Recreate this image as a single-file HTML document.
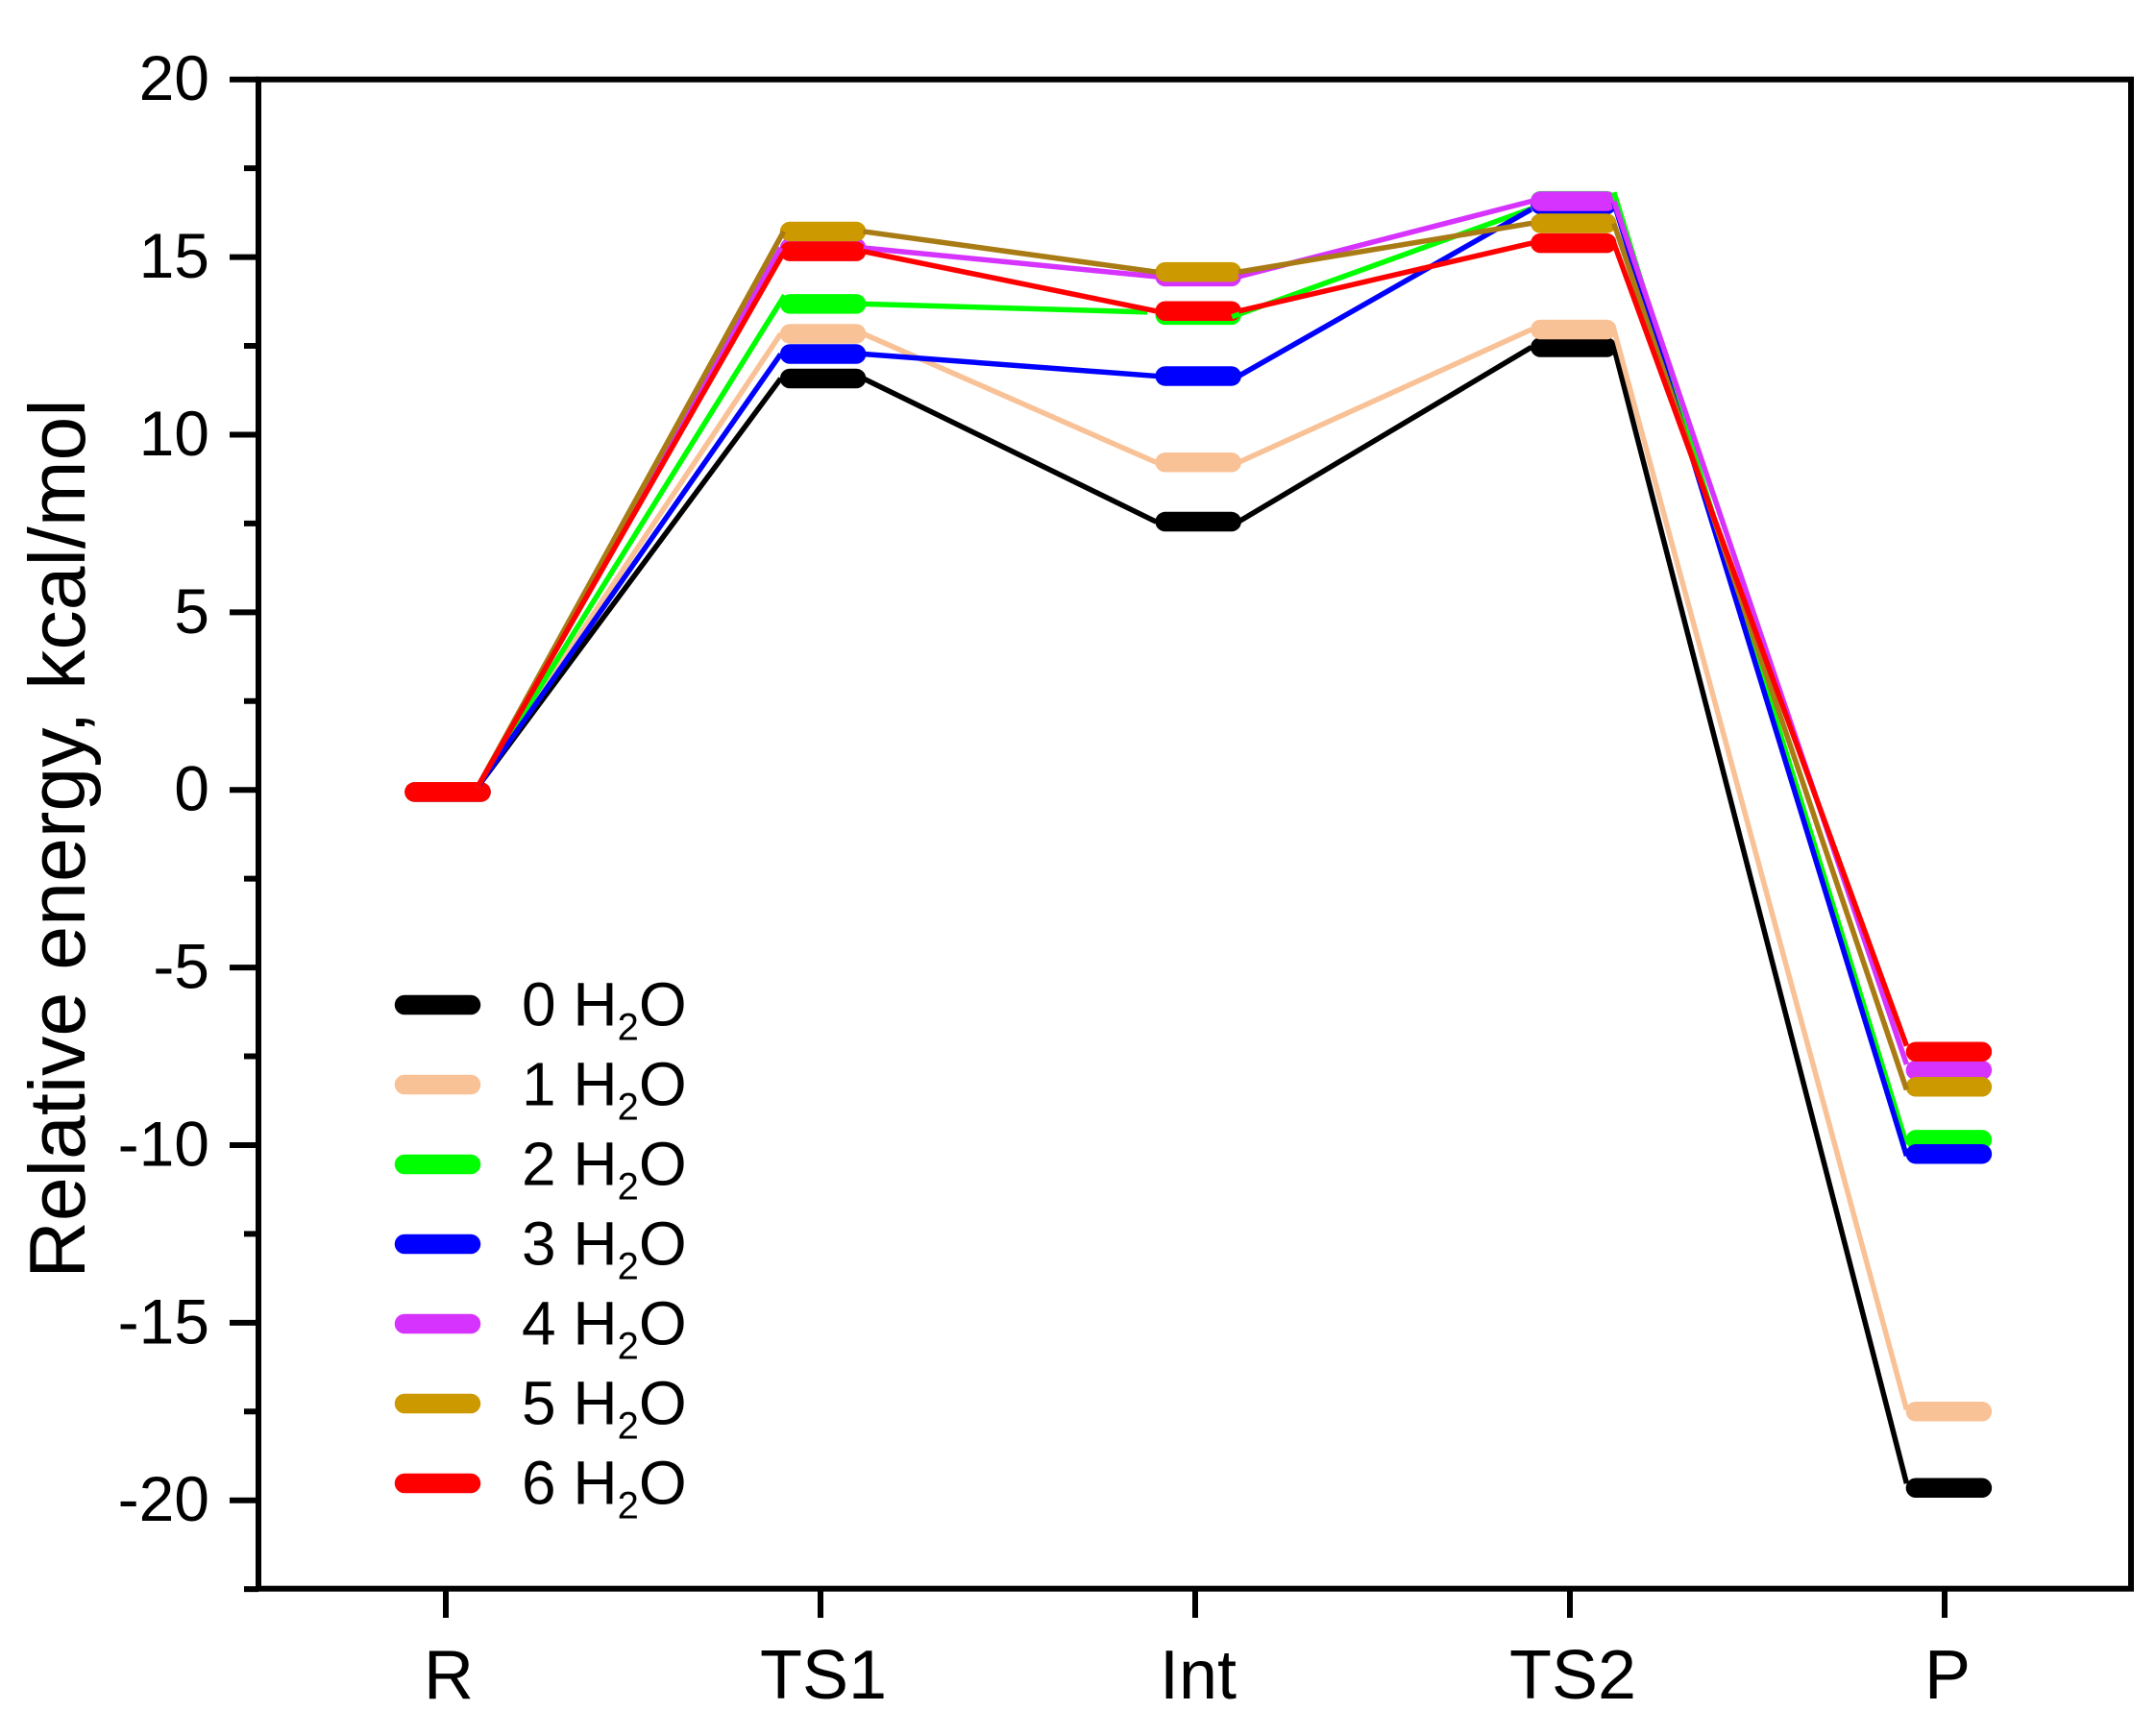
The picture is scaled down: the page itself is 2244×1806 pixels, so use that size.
<!DOCTYPE html>
<html lang="en">
<head>
<meta charset="utf-8">
<title>Relative energy profile</title>
<style>
html,body{margin:0;padding:0;background:#fff;}
svg{display:block;}
text{font-family:"Liberation Sans",Arial,sans-serif;fill:#000;}
</style>
</head>
<body>
<svg id="chart" xmlns="http://www.w3.org/2000/svg" width="2244" height="1806" viewBox="0 0 2244 1806"></svg>
<script>
const categories = ['R', 'TS1', 'Int', 'TS2', 'P'];
const seriesNames = ['0', '1', '2', '3', '4', '5', '6'];
const water0 = [-0.06, 11.58, 7.55, 12.46, -19.65];
const water1 = [-0.06, 12.84, 9.22, 12.96, -17.5];
const water2 = [-0.06, 13.68, 13.37, 16.58, -9.85];
const water3 = [-0.06, 12.27, 11.65, 16.48, -10.25];
const water4 = [-0.06, 15.26, 14.45, 16.57, -7.89];
const water5 = [-0.06, 15.72, 14.58, 15.95, -8.36];
const water6 = [-0.06, 15.16, 13.48, 15.39, -7.37];
const barColors = ['#000000', '#F9C196', '#00FF00', '#0000FF', '#D633FF', '#CC9900', '#FF0000'];
const lineColors = ['#000000', '#F9C196', '#00FF00', '#0000FF', '#D633FF', '#A97B14', '#FF0000'];
const majorTicks = [20, 15, 10, 5, 0, -5, -10, -15, -20];
const minorTicks = [17.5, 12.5, 7.5, 2.5, -2.5, -7.5, -12.5, -17.5, -22.5];

const allSeries = [water0, water1, water2, water3, water4, water5, water6];
const svg = document.getElementById('chart');
const NS = 'http://www.w3.org/2000/svg';
function yScale(v) { return 822.2 - 36.975 * v; }
function xScale(i) { return 464 + 390 * i; }
function barX(i) { return 466 + 390.6 * i; }
function make(tag, attrs, parent) {
  const node = document.createElementNS(NS, tag);
  for (const k in attrs) node.setAttribute(k, attrs[k]);
  (parent || svg).appendChild(node);
  return node;
}
/* hand-drawn connector misalignments: series-segment -> [dx start, dy start, dx end, dy end] */
function connectorNudge(s, i) {
  const key = s + '-' + i;
  if (i === 0) {
    if (key === '2-0') return [-11, -5, 4, -9];
    if (key === '5-0') return [-11, -5, 3, 0];
    if (key === '6-0') return [-11, -5, 2, 3];
    return [-11, -5, 0, 0];
  }
  if (key === '2-1') return [0, 0, -9, -3];
  if (key === '2-2') return [-7, 2, 0, 8];
  if (key === '3-2') return [0, 0, 0, 5];
  if (i === 3) {
    const startDy = {2: -9, 3: -2};
    const endDy = {0: -4.6, 1: -2, 2: 5, 3: 2, 4: -6, 5: 3, 6: -6};
    return [0, startDy[s] || 0, 0, endDy[s]];
  }
  return [0, 0, 0, 0];
}

const bg = make('rect', {x: 0, y: 0, width: 2244, height: 1806, fill: '#fff'});



const barLayer = make('g', {});


const connectorLayer = make('g', {});



allSeries.forEach(function (vals, s) {
  vals.forEach(function (v, i) {
    const bar = make('line', {x1: barX(i) - 34.5, x2: barX(i) + 34.5, y1: yScale(v), y2: yScale(v), stroke: barColors[s], 'stroke-width': 20.5, 'stroke-linecap': 'round'}, barLayer);
    
    
  });
  for (let i = 0; i < vals.length - 1; i++) {
    const n = connectorNudge(s, i);
    const conn = make('line', {x1: barX(i) + 42 + n[0], x2: barX(i + 1) - 44 + n[2], y1: yScale(vals[i]) + n[1], y2: yScale(vals[i + 1]) + n[3], stroke: lineColors[s], 'stroke-width': 5.5}, connectorLayer);
    
    
  }
});

const frame = make('rect', {x: 269, y: 82.7, width: 1949, height: 1571, fill: 'none', stroke: '#000', 'stroke-width': 6});



majorTicks.forEach(function (v) {
  const t = make('line', {x1: 239, x2: 269, y1: yScale(v), y2: yScale(v), stroke: '#000', 'stroke-width': 6});
  
  
  const label = make('text', {x: 218, y: yScale(v) + 21.5, 'text-anchor': 'end', 'font-size': 66});
  label.textContent = String(v);
  
  
});
minorTicks.forEach(function (v) {
  const t = make('line', {x1: 254, x2: 269, y1: yScale(v), y2: yScale(v), stroke: '#000', 'stroke-width': 6});
  
  
});
categories.forEach(function (c, i) {
  const t = make('line', {x1: xScale(i), x2: xScale(i), y1: 1654, y2: 1684, stroke: '#000', 'stroke-width': 6});
  
  
  const label = make('text', {x: xScale(i) + 3, y: 1768, 'text-anchor': 'middle', 'font-size': 72});
  label.textContent = c;
  
  
});

const title = make('text', {x: 0, y: 0, 'text-anchor': 'middle', 'font-size': 82.5, transform: 'translate(88 873) rotate(-90)'});
title.textContent = 'Relative energy, kcal/mol';



const legend = make('g', {});


seriesNames.forEach(function (n, s) {
  const cy = 1046 + 83 * s;
  const g = make('g', {}, legend);
  
  
  const swatch = make('line', {x1: 421, x2: 490, y1: cy, y2: cy, stroke: barColors[s], 'stroke-width': 20.5, 'stroke-linecap': 'round'}, g);
  
  
  const txt = make('text', {x: 543, y: cy + 21.5, 'font-size': 64}, g);
  
  
  const a = make('tspan', {}, txt);
  a.textContent = n + ' H';
  const b = make('tspan', {dy: 15, 'font-size': 40}, txt);
  b.textContent = '2';
  const c = make('tspan', {dy: -15}, txt);
  c.textContent = 'O';
});
</script>
</body>
</html>
